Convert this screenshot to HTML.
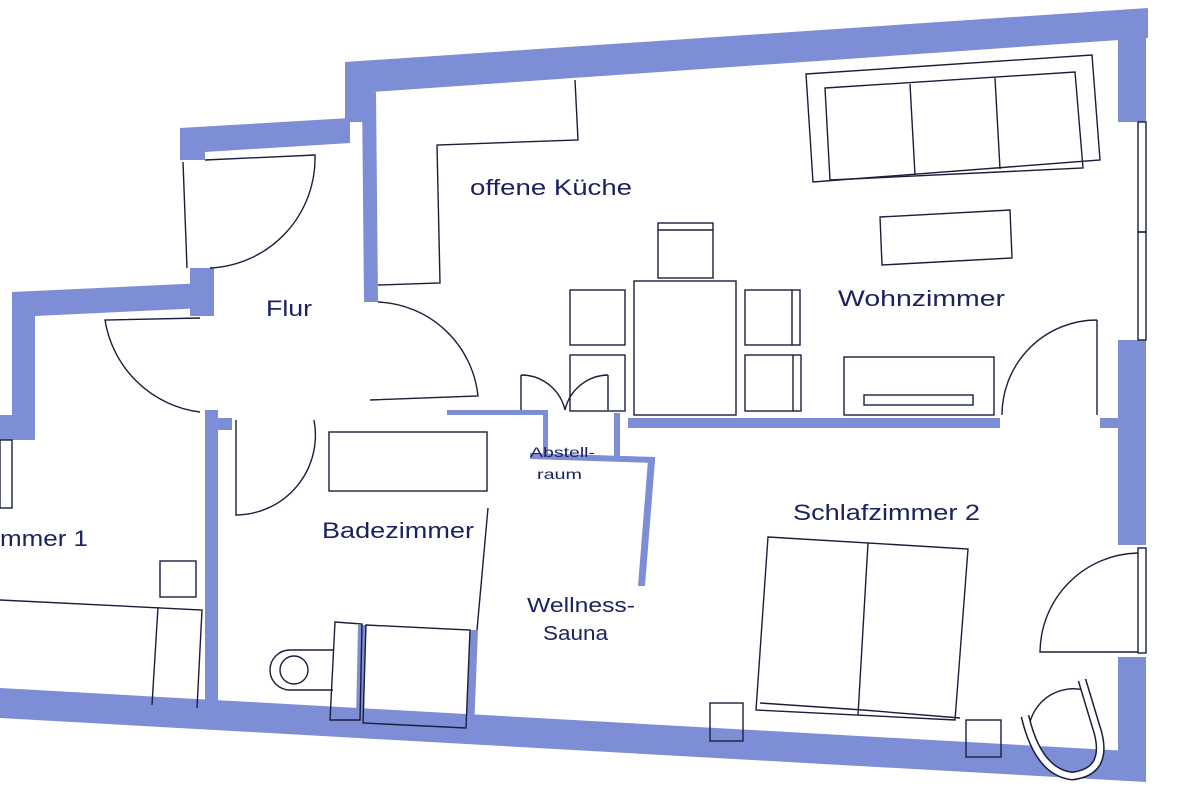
<!DOCTYPE html>
<html><head><meta charset="utf-8"><style>
html,body{margin:0;padding:0;background:#fff;width:1200px;height:800px;overflow:hidden}
text{font-family:"Liberation Sans",sans-serif;fill:#1c2260}
</style></head><body>
<svg width="1200" height="800" viewBox="0 0 1200 800" xmlns="http://www.w3.org/2000/svg">
<g fill="#7d8ed6" stroke="none">
<polygon points="345,62 1148,8 1148,38 372,92 345,92"/>
<rect x="1118" y="20" width="28" height="102"/>
<rect x="1118" y="340" width="28" height="205"/>
<rect x="1118" y="657" width="28" height="122"/>
<polygon points="0,688 1146,752 1146,782 0,718"/>
<rect x="345" y="62" width="27" height="60"/>
<polygon points="362,92 376,92 378,302 364,302"/>
<polygon points="180,128 350,118 350,143 205,152 180,152"/>
<rect x="180" y="128" width="25" height="32"/>
<rect x="190" y="268" width="24" height="48"/>
<polygon points="12,292 205,283 205,308 35,316 12,316"/>
<rect x="12" y="292" width="23" height="148"/>
<rect x="0" y="415" width="35" height="25"/>
<rect x="205" y="410" width="13" height="302"/>
<rect x="218" y="418" width="14" height="12"/>
<polygon points="628,418 1000,418 1000,428 628,428"/>
<rect x="1100" y="418" width="18" height="10"/>
<rect x="447" y="410" width="100" height="5"/>
<rect x="543" y="410" width="5" height="48"/>
<rect x="614" y="413" width="6" height="46"/>
<polygon points="530,453 655,457 655,463 530,459"/>
<polygon points="648,460 655,460 645,586 638,586"/>
<polygon points="358,625 366,625 364,720 356,720"/>
<polygon points="470,630 478,630 474,730 466,730"/>
</g>
<g fill="none" stroke="#1a1e3c" stroke-width="1.4">
<rect x="1138" y="122" width="8" height="110"/>
<rect x="1138" y="232" width="8" height="108"/>
<rect x="1138" y="548" width="8" height="105"/>
<line x1="183" y1="162" x2="187" y2="268"/>
<path d="M205,160 L315,155 A110,110 0 0 1 210,268"/>
<path d="M200,318 L105,320 A110,110 0 0 0 200,412"/>
<path d="M378,302 A105,105 0 0 1 478,396 L370,400"/>
<path d="M236,420 L236,515 A80,80 0 0 0 314,420"/>
<polyline points="378,285 440,283 437,145 578,140 575,80"/>
<polygon points="806,74 1092,55 1100,160 813,182"/>
<polygon points="825,88 1075,72 1083,168 830,180"/>
<line x1="910" y1="84" x2="915" y2="175"/>
<line x1="995" y1="78" x2="1000" y2="169"/>
<polygon points="880,217 1010,210 1012,258 882,265"/>
<rect x="658" y="223" width="55" height="55"/>
<line x1="658" y1="230" x2="713" y2="230"/>
<rect x="634" y="281" width="102" height="134"/>
<rect x="570" y="290" width="55" height="55"/>
<rect x="570" y="355" width="55" height="56"/>
<rect x="745" y="290" width="55" height="55"/>
<line x1="792" y1="290" x2="792" y2="345"/>
<rect x="745" y="355" width="56" height="56"/>
<line x1="793" y1="355" x2="793" y2="411"/>
<rect x="844" y="357" width="150" height="58"/>
<rect x="864" y="395" width="109" height="10"/>
<path d="M1097,320 L1097,415 M1097,320 A95,95 0 0 0 1002,415"/>
<path d="M521,375 A45,45 0 0 1 565,410 M521,375 L521,410"/>
<path d="M608,375 A45,45 0 0 0 565,410 M608,375 L608,410"/>
<rect x="329" y="432" width="158" height="59"/>
<line x1="488" y1="508" x2="477" y2="630"/>
<polygon points="335,622 362,624 360,720 330,720"/>
<polygon points="366,625 470,630 466,728 363,723"/>
<path d="M333,650 L290,650 A20,20 0 0 0 290,690 L333,690"/>
<circle cx="294" cy="670" r="14"/>
<rect x="0" y="440" width="12" height="68"/>
<rect x="160" y="561" width="36" height="36"/>
<polyline points="0,600 202,610 197,708"/>
<line x1="158" y1="607" x2="152" y2="705"/>
<polygon points="768,537 968,549 955,720 756,710"/>
<line x1="868" y1="543" x2="858" y2="715"/>
<polyline points="760,703 863,710 960,718"/>
<rect x="710" y="703" width="33" height="38"/>
<rect x="966" y="720" width="35" height="37"/>
<path d="M1138,553 A100,100 0 0 0 1040,652 L1138,652"/>
<path d="M1030,722 A45,45 0 0 1 1084,690"/>
</g>
<path d="M1025,716 Q1038,772 1072,776 Q1108,772 1098,733 L1082,680" fill="none" stroke="#1a1e3c" stroke-width="9"/>
<path d="M1025,716 Q1038,772 1072,776 Q1108,772 1098,733 L1082,680" fill="none" stroke="#fff" stroke-width="6"/>
<text x="470" y="195" font-size="22" textLength="162" lengthAdjust="spacingAndGlyphs">offene Küche</text>
<text x="266" y="316" font-size="22" textLength="46" lengthAdjust="spacingAndGlyphs">Flur</text>
<text x="838" y="306" font-size="22" textLength="167" lengthAdjust="spacingAndGlyphs">Wohnzimmer</text>
<text x="793" y="520" font-size="22" textLength="187" lengthAdjust="spacingAndGlyphs">Schlafzimmer 2</text>
<text x="322" y="538" font-size="22" textLength="152" lengthAdjust="spacingAndGlyphs">Badezimmer</text>
<text x="0" y="546" font-size="22" textLength="88" lengthAdjust="spacingAndGlyphs">mmer 1</text>
<text x="527" y="612" font-size="20" textLength="108" lengthAdjust="spacingAndGlyphs">Wellness-</text>
<text x="543" y="640" font-size="20" textLength="65" lengthAdjust="spacingAndGlyphs">Sauna</text>
<text x="530" y="457" font-size="14" textLength="65" lengthAdjust="spacingAndGlyphs">Abstell-</text>
<text x="537" y="479" font-size="14" textLength="45" lengthAdjust="spacingAndGlyphs">raum</text>
</svg>
</body></html>
